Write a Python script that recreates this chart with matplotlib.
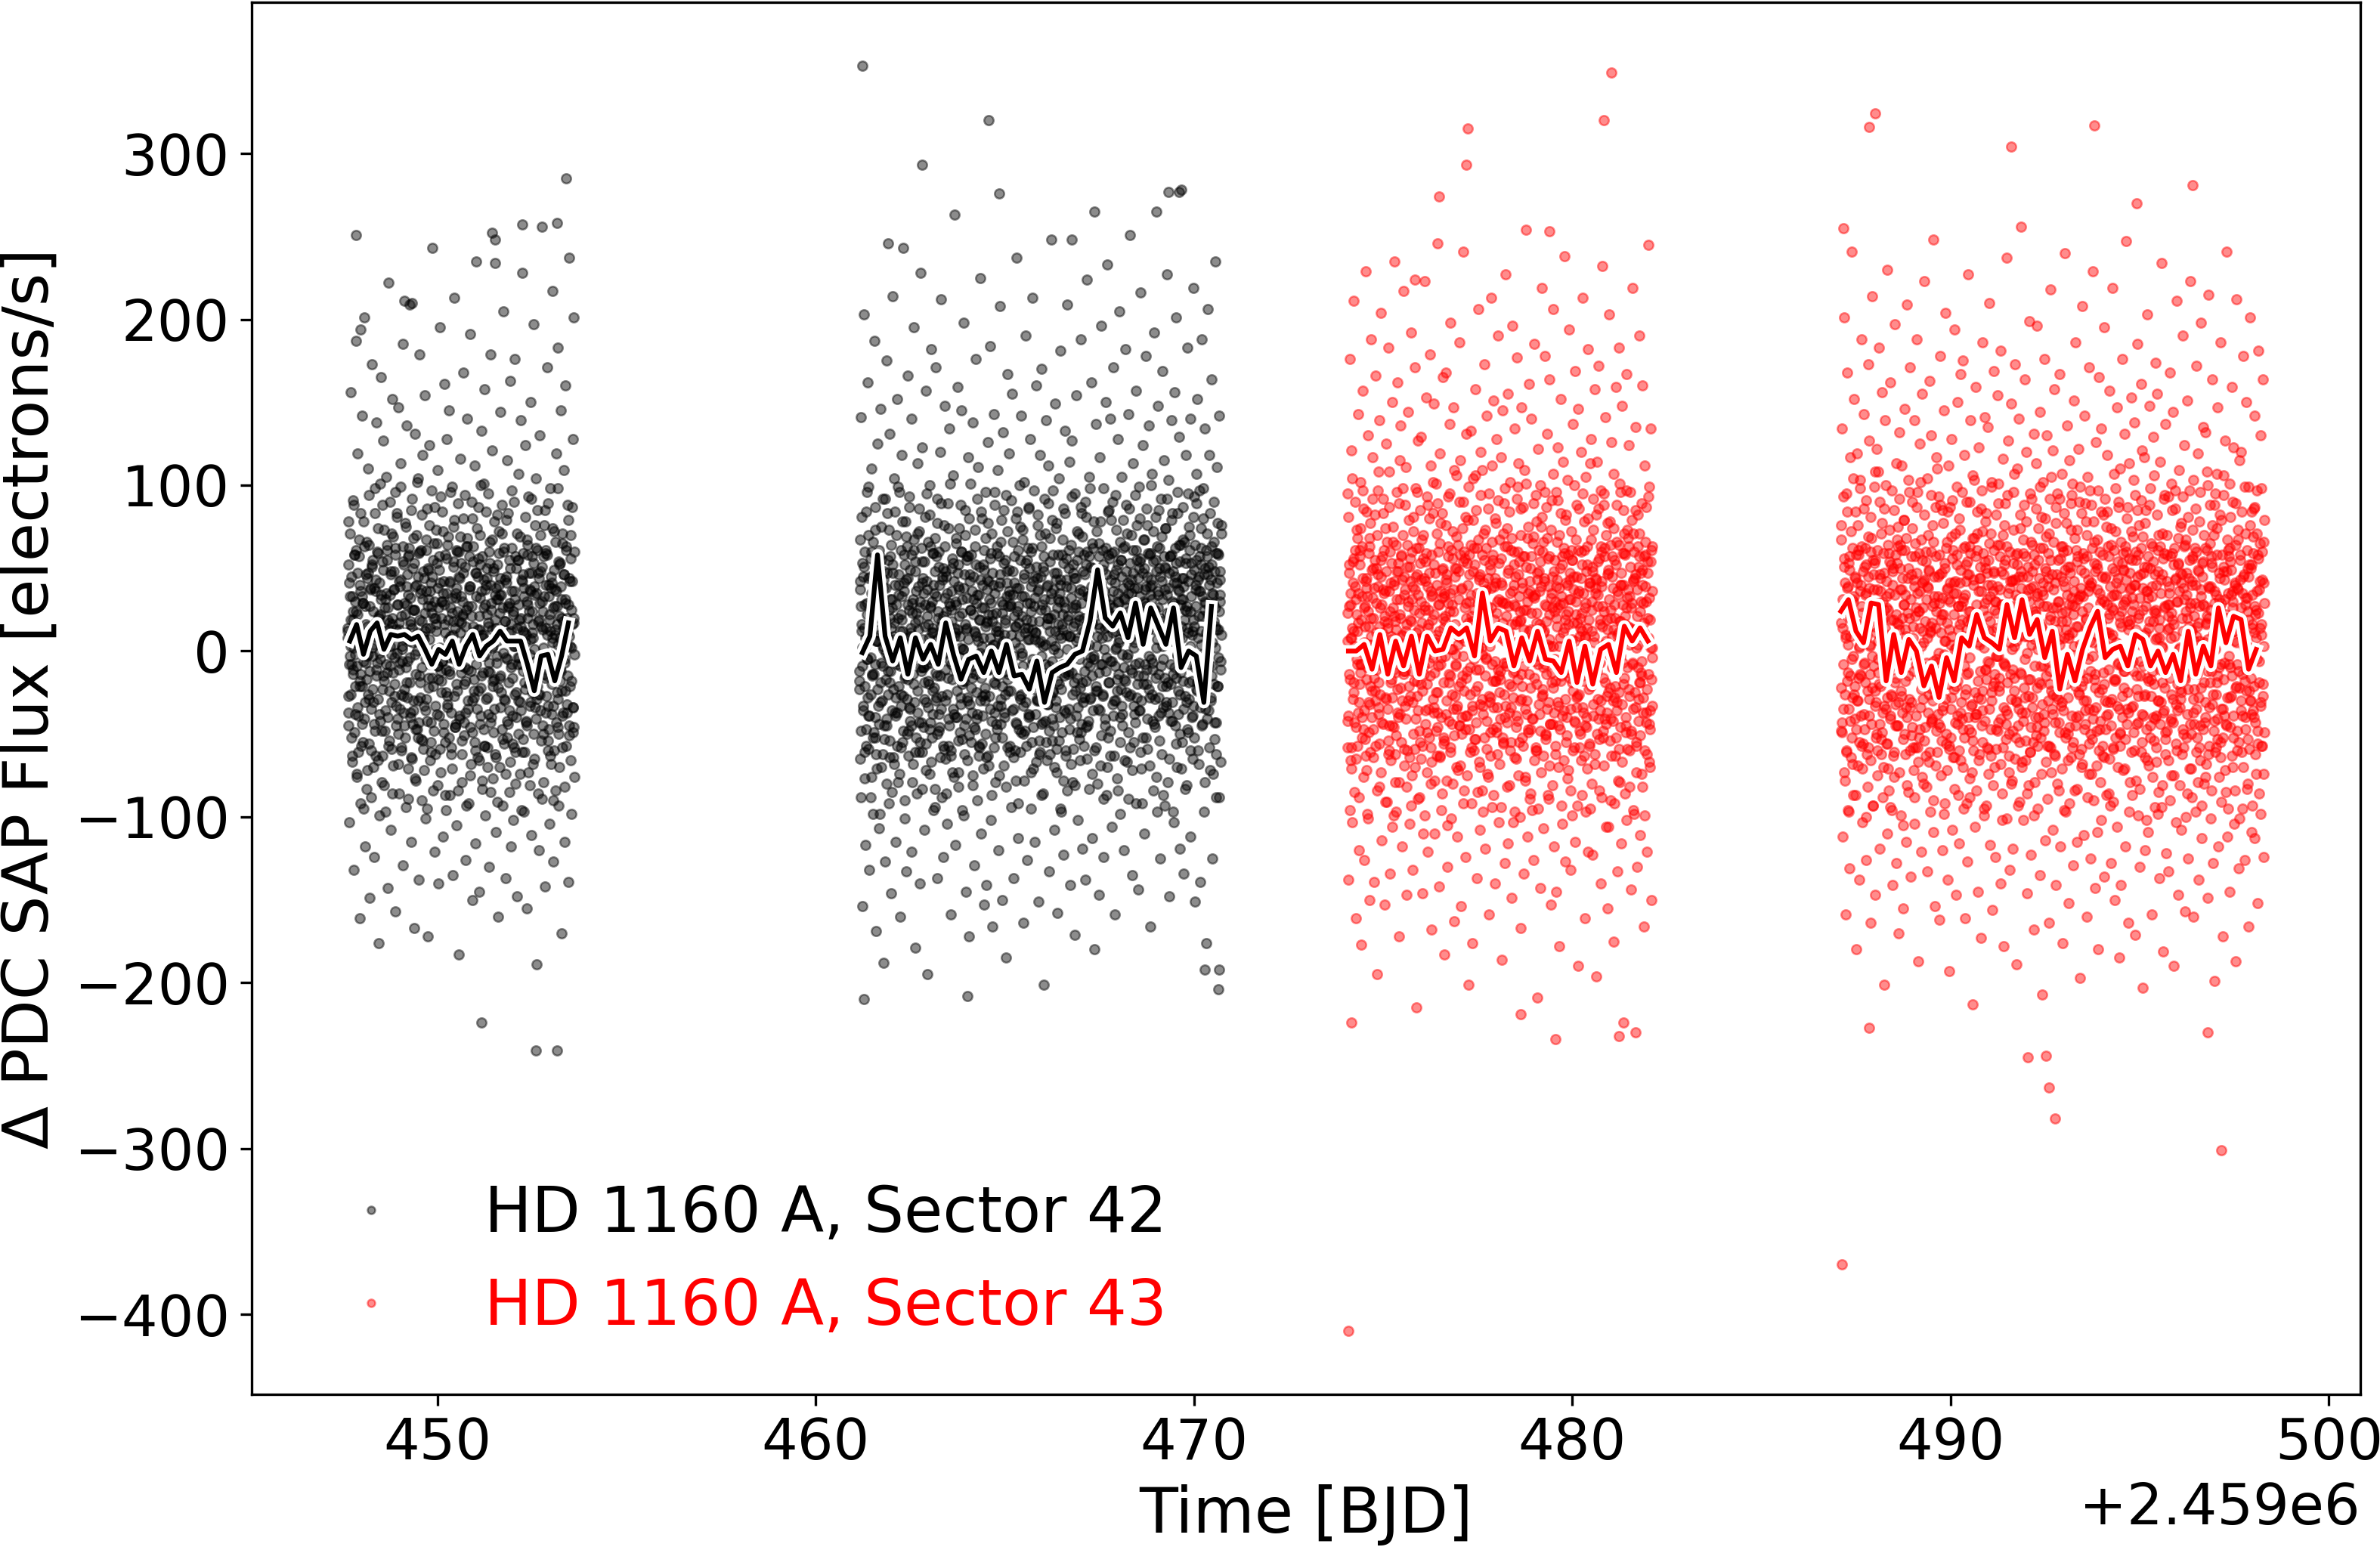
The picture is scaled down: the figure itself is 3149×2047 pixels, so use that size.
import matplotlib
matplotlib.use("Agg")
import matplotlib.pyplot as plt
import matplotlib.patheffects as pe
import numpy as np

# ---------------- data (times in BJD - 2459000) ----------------
BJD0 = 2459000.0

# observed flux residuals, read/estimated from the picture, ordered in time
# (wide part of each cloud)
s42_a_span = (447.62, 453.62)
s42_a_flux = [
 12, -45, 78, -103, 33, 156, -8, -67, 91, 24, -132, 58, -21, 187, -76, 5, 119, -39, 67, -161,
 -14, 83, -57, 142, 29, -95, 8, 201, -118, 46, -3, -72, 110, -26, 64, -149, 37, -88, 173, 2,
 55, -31, -124, 98, 17, -63, 138, -7, 74, -176, 41, -99, 22, 165, -48, 88, -15, 127, -81, 9,
 -36, 105, 61, -143, 19, 222, -54, 34, -108, 71, -2, 152, -69, 48, -27, 96, -157, 13, 83, -41,
 147, -11, -86, 39, 113, -60, 3, 185, -129, 52, -23, 77, -94, 28, 136, -6, -71, 58, 209, -37,
 16, -115, 92, -44, 68, -167, 25, 131, -78, 6, 102, -52, 45, -138, 179, -19, 61, -90, 31, 118,
 -59, 7, 154, -101, 36, -29, 86, -172, 49, 124, -66, 14, -43, 97, 243, -84, 20, 65, -121, 1,
 73, -38, 109, -9, -140, 57, 195, -73, 30, -18, 84, -112, 42, 161, -55, 11, -96, 128, -32, 69,
 -4, 145, -87, 26, -62, 99, -135, 18, 75, 213, -46, 35, -105, 60, -24, 89, -183, 44, 116, -13,
 53, -79, 21, 168, -51, 94, -10, -126, 63, 140, -35, 8, -92, 37, 191, -68, 27, -150, 80, 15,
 -28, 112, -116, 47, 235, -1, -64, 87, -145, 32, 70, -22, 133, -83, 10, -47, 101, 158, -99, 40,
 22, -58, 95, -12, -130, 66, 179, -40, 13, 121, -77, 50, -17, 248, -109, 38, -3, 82, -160, 59,
 -70, 34, 144, -25, 71, -93, 9, 205, -56, 43, -137, 79, -5, 115, -44, 26, -85, 163, 16, -118,
 62, -16, -102, 90, 31, 176, -61, 4, -148, 55, 107, -30, 19, -74, 139, -8, 228, -53, 46, -97,
 11, 124, -42, 67, -155, 28, 93, -20, -81, 150, 36, -111, 57, 8, 197, -65, 39, -34, 104, -189,
 85, -26, 18, -120, 130, 48, -7, 256, -89, 24, -50, 76, -142, 14, 61, -15, 171, -60, 33, -104,
 -2, 98, -68, 41, 217, -33, -127, 72, 10, -84, 119, 27, -46, 183, -93, 52, -11, 145, -170, 20,
 65, -37, 109, -115, 29, 160, -57, 3, 88, -139, 44, 237, -21, 70, -98, 16, 128, -49, 201, -76,
]
# dense core of the same orbit
s42_a_core = [
 14, -37, 52, -8, 71, -26, 3, 45, -63, 19, -11, 88, -49, 30, -2, 61, -74, 22, -34, 9, 57, -18, 40, -92, 6,
 -21, 33, -55, 78, 1, -41, 27, -7, 66, -83, 15, 47, -29, 94, -12, 38, -60, 10, 51, -3, -70, 24, -44, 83, 36,
 43, -15, 8, -66, 59, 20, -38, 101, -5, 31, -79, 54, -23, 12, 73, -48, 2, -97, 35, 64, -13, 26, -57, 17, 90,
 -9, 48, -31, 16, -86, 69, 37, -20, 4, 58, -45, 81, -1, 28, -68, 13, 42, -35, 99, -58, 21, -6, 63, -27, 7,
 29, -52, 75, 11, -19, 46, -89, 34, 62, -4, 18, -40, 85, -65, 25, 5, -30, 53, -77, 39, -14, 70, -47, 0, 104,
 -43, 19, 60, -28, 37, -10, 82, -54, 9, 44, -72, 23, -36, 67, 14, -95, 50, -22, 31, 76, -8, 41, -61, 27, -16,
 55, -3, -48, 87, 20, -33, 12, 65, -81, 38, -17, 49, 2, -59, 93, -25, 30, -6, 72, -44, 16, -87, 58, -11, 35,
 -27, 64, 7, -52, 41, -14, 96, -37, 23, -71, 10, 54, -5, 79, -46, 32, -20, 61, -2, -84, 45, 18, -39, 69, -9,
 33, -62, 22, -1, 80, -43, 51, -18, 15, -93, 68, 27, -30, 4, 57, -75, 39, -12, 90, -49, 11, 63, -24, 6, -55,
 47, -8, 74, -35, 13, 56, -66, 21, -44, 100, -15, 36, -78, 8, 43, -3, -57, 28, 84, -29, 50, -70, 17, -38, 60,
 -13, 40, -85, 25, 67, -21, 3, -49, 78, 34, -62, 14, -7, 52, -91, 31, 72, -16, 44, -34, 9, 88, -53, 26, -1,
 62, -30, 18, -74, 45, 7, -42, 83, -19, 29, 55, -67, 12, -8, 97, -39, 24, -58, 36, 3, -80, 50, -25, 71, -4,
 -50, 28, 6, 69, -36, 15, -96, 42, 59, -12, 33, -61, 81, -23, 10, -45, 64, 20, -73, 47, -2, 37, -31, 92, 11,
 24, -68, 53, -17, 1, 76, -41, 35, -9, 61, -86, 19, 44, -26, 70, -3, -54, 30, 13, -79, 57, -14, 85, -37, 40,
 -6, 58, -33, 89, -47, 22, 12, -63, 38, -20, 74, 5, -90, 49, 27, -11, 66, -43, 16, 98, -29, 54, -70, 8, -18,
 39, -24, 71, -58, 14, 46, -5, -82, 31, 63, -37, 20, -15, 79, -51, 9, 42, -66, 25, 2, 87, -34, 17, -46, 60,
]
# innermost part of the same orbit
s42_a_inner = [
 8, -27, 41, -3, 19, -52, 33, -14, 2, 58, -38, 24, -9, 47, -61, 12, -21, 36, 5, -44, 29, -6, 63, -31, 16,
 -17, 44, -2, -56, 27, 10, -35, 52, -23, 4, 38, -48, 15, -11, 60, -29, 21, -1, -42, 34, 7, -63, 49, -18, 26,
 31, -8, 55, -40, 13, -24, 3, 46, -59, 20, -13, 37, -4, 62, -33, 9, 28, -50, 17, -7, 43, -26, 1, 54, -37,
 -45, 22, -10, 39, -28, 57, 6, -19, 32, -64, 14, 50, -36, 25, -2, -47, 40, 11, -30, 59, -15, 35, -53, 18, 4,
 48, -33, 12, -5, 61, -42, 27, -16, 7, 36, -55, 23, 45, -21, -1, 30, -62, 16, 53, -9, 26, -39, 41, -12, 20,
 -6, 35, -49, 28, 1, -25, 56, -34, 19, -12, 42, 9, -58, 32, -3, 51, -27, 14, -44, 38, 24, -8, 60, -41, 11,
 17, -54, 30, 47, -20, 6, -37, 25, 63, -11, 39, -46, 3, 21, -30, 54, -17, 8, -60, 33, -2, 45, -24, 13, 52,
 -39, 10, 57, -13, 26, -57, 37, -1, 44, -28, 15, -7, 53, -43, 29, 2, -18, 48, -35, 19, -64, 31, 6, -22, 40,
 23, -15, 34, -47, 9, 60, -29, 18, -4, 41, -52, 27, 11, -36, 50, -10, 36, -56, 22, 3, -26, 57, -40, 14, -8,
 55, -4, -31, 20, 43, -61, 12, 38, -19, 5, -43, 30, 58, -14, 24, -33, 7, 47, -25, 16, -50, 34, -6, 62, -29,
 -21, 47, -8, 29, -36, 15, 51, -45, 2, 33, -16, 59, -27, 10, -54, 40, 19, -3, 45, -38, 8, 26, -60, 37, 13,
 36, -25, 4, -50, 21, 53, -12, 31, -39, 18, 46, -7, -24, 61, -32, 11, 28, -45, 3, 56, -18, 42, -34, 20, -2,
]

s42_b_span = (461.15, 470.72)
s42_b_flux = [
 -23, 67, 141, -88, 12, -154, 45, 203, -61, 28, -117, 84, -5, 162, -39, 99, -132, 17, 56, -76,
 110, -14, -98, 38, 187, -52, 73, -169, 6, 125, -33, 61, -107, 20, 146, -70, 31, -9, 92, -188,
 48, -127, 15, 175, -45, 83, -3, -92, 131, -19, 57, -146, 26, 214, -64, 9, 104, -37, -115, 70,
 -8, 152, -79, 34, 96, -160, 22, -26, 118, -55, 243, 41, -101, 5, 78, -133, 63, -17, 166, -48,
 87, -35, 11, -121, 140, 29, -68, 195, -2, 54, -179, 36, -86, 113, 19, -43, 72, -140, 228, -12,
 -61, 123, 44, -10, -108, 81, 157, -31, 3, -195, 66, -20, 100, -74, 27, 182, -52, 14, -96, 59,
 35, -83, 171, -28, 92, -137, 8, 60, -46, 120, -15, 212, -88, 43, -124, 76, -1, 148, -65, 24,
 -104, 16, 89, -57, 134, -6, -159, 50, 25, -73, 106, -38, 263, 11, -117, 68, -24, 159, -82, 39,
 74, -49, 2, 145, -96, 31, -18, 198, -62, 85, -145, 13, 57, -30, 117, -172, 46, -7, 101, -55,
 -16, 138, -75, 22, -129, 63, 176, -41, 9, -90, 111, 34, -58, 225, -1, -110, 80, -27, 52, -153,
 61, -22, 96, -141, 18, 126, -63, 42, -11, 184, -102, 29, 71, -166, 4, 143, -37, 88, -79, 15,
 -47, 109, -4, -120, 57, 208, -33, 79, -150, 23, 132, -69, 10, -26, 94, -185, 48, 167, -14, 36,
 119, -57, 28, -94, 155, -12, 66, -137, 41, 5, -78, 237, -44, 84, -113, 17, 100, -29, -61, 142,
 -3, 73, -164, 33, 102, -48, 190, -20, 55, -126, 14, 87, -39, 128, -95, 60, -8, 213, -71, 27,
 45, -115, 11, 160, -30, 82, -151, 37, -62, 118, 6, -87, 170, -17, 51, -201, 92, -42, 25, 139,
 -66, 20, 112, -9, -133, 68, 31, 248, -54, 97, -24, 1, -108, 149, 43, -73, 77, -158, 16, 104,
 30, -40, 181, -97, 58, 13, -123, 86, -15, 133, -60, 39, 209, -84, 21, -35, 114, -141, 64, -5,
 127, -79, 47, -19, 95, -171, 26, 154, -49, 8, -102, 71, 19, -66, 188, -28, 83, -119, 36, 58,
 -12, 90, -138, 52, 224, -45, 15, 105, -83, 33, -4, 162, -113, 65, -36, 78, -180, 42, 137, -58,
 72, -24, 16, -147, 117, 40, -69, 196, -8, 61, 98, -124, 27, -41, 150, -87, 9, 233, -52, 85,
 23, 140, -63, 79, -106, 11, 171, -30, 46, -159, 94, 2, -77, 128, 35, -14, 205, -98, 55, -33,
 105, -45, 62, -120, 31, 182, -18, 88, -67, 14, 143, -89, 40, 251, -26, 70, -135, 19, 113, -55,
 38, -8, 157, -92, 76, 21, -144, 99, -36, 54, 216, -71, 9, 124, -52, 67, -110, 29, 178, -20,
 86, -59, 13, 136, -28, 59, -166, 43, 107, -11, -84, 192, 25, -46, 81, 265, -97, 34, 148, -39,
 50, -125, 92, 18, -62, 169, -5, 115, -93, 37, 74, -31, 227, -79, 12, 103, -148, 57, -20, 139,
 -42, 83, 27, -103, 156, 45, -16, 201, -70, 96, -38, 129, 8, -119, 64, 278, -55, 31, 87, -134,
 66, -27, 118, -81, 24, 183, -49, 75, -8, 140, -112, 53, 10, -65, 219, -33, 93, -151, 40, 107,
 -19, 152, -60, 36, 97, -139, 62, 12, 188, -44, 80, -97, 25, 134, -13, -176, 71, 206, -36, 51,
 118, -72, 43, -9, 164, -125, 29, 90, -53, 235, 15, -88, 111, -21, 58, -192, 142, 34, -67, 76,
]
s42_b_core = [
 -18, 42, -65, 27, 81, -9, 53, -36, 14, -77, 60, 3, -47, 96, 22, -28, 70, -59, 11, 45, -4, -88, 35, 18, -52,
 66, -14, 29, -40, 87, 6, -71, 50, -23, 34, 13, -98, 57, -31, 75, -7, 24, -62, 43, 1, -45, 92, -17, 38, -80,
 9, 55, -26, 73, -54, 20, -12, 64, -85, 31, 47, -3, -68, 17, 84, -39, 28, 5, -57, 99, -21, 40, -74, 12, 61,
 -33, 19, 78, -48, 2, 36, -90, 52, -15, 69, -29, 8, 44, -63, 25, 93, -42, 14, -6, 58, -79, 31, 67, -20, 4,
 48, -61, 23, -2, 71, -37, 13, 86, -55, 30, -10, 62, -83, 41, 7, -46, 54, -19, 28, -72, 95, -8, 37, -34, 16,
 -5, 82, -43, 26, -67, 11, 59, -24, 40, 3, -94, 68, -13, 33, -50, 77, 20, -38, 51, -1, -64, 15, 89, -27, 45,
 21, -57, 6, 63, -30, 48, -86, 35, 10, -16, 74, -45, 27, 101, -60, 18, -8, 56, -35, 42, -76, 9, 30, -12, 65,
 -40, 13, 52, -73, 37, -4, 88, -28, 60, -53, 23, 1, -99, 46, -18, 70, -41, 32, 14, -66, 57, -7, 80, -32, 25,
 58, -22, 36, -9, -81, 45, 12, -47, 73, -14, 29, 92, -38, 6, -63, 51, 19, -30, 84, -56, 3, 40, -71, 26, -3,
 -26, 68, -50, 17, 43, -11, 77, -69, 31, 8, -35, 59, -87, 22, 47, -2, -58, 35, 96, -20, 12, -44, 63, -15, 39,
 10, -75, 41, -29, 66, 4, -52, 28, -6, 85, -40, 19, 55, -82, 33, -17, 72, -24, 2, 49, -61, 27, -9, 91, -36,
 34, -3, -64, 57, 15, -43, 80, -12, 24, -92, 61, 38, -27, 9, 75, -49, 21, -1, 67, -33, 46, -78, 14, 53, -19,
 -57, 29, 7, 86, -38, 50, -16, 39, -73, 18, 62, -5, -46, 97, -23, 32, 11, -67, 44, -11, 76, -30, 5, -54, 70,
 25, -44, 63, -21, 3, -86, 48, 31, -8, 71, -55, 16, 40, -32, 89, -14, 54, -62, 20, 6, -41, 79, -25, 37, -70,
 47, 12, -34, 74, -59, 26, -1, 58, -20, 35, -95, 43, 8, -49, 67, 22, -78, 30, -13, 83, -37, 10, 56, -7, 19,
 -12, 61, -47, 9, 38, -68, 93, -26, 15, 52, -3, -81, 44, 28, -39, 72, -16, 1, 60, -53, 35, -22, 87, -44, 13,
 69, -31, 20, -57, 46, 4, -18, 81, -65, 33, 11, -42, 57, -9, 98, -28, 39, -74, 17, 50, -5, 28, -60, 42, -24,
 3, 44, -80, 30, -13, 65, -36, 22, 78, -51, 8, -27, 49, -89, 36, 14, -45, 62, -4, 25, -70, 84, -19, 31, 56,
 -48, 17, 59, -6, 90, -39, 26, -63, 41, 1, -30, 73, -17, 52, -84, 29, 7, -55, 66, -23, 45, 12, -38, 79, -10,
 32, -66, 13, 48, -25, 71, -2, -49, 35, 86, -58, 20, -11, 43, -72, 61, 27, -33, 5, 94, -43, 16, 55, -28, 38,
 -15, 50, -36, 80, -61, 24, 9, -92, 47, 30, -20, 67, -8, 39, -52, 13, 76, -41, 22, -3, 58, -69, 34, 100, -26,
 40, -7, 72, -44, 18, -29, 55, 2, -76, 63, 26, -14, 85, -54, 11, 45, -37, 69, -21, 31, -87, 8, 51, -16, 74,
 -33, 23, 92, -19, 38, -65, 14, 57, -42, 6, 79, -31, 48, -97, 29, -10, 62, 17, -56, 41, -2, 83, -24, 36, -50,
 54, -13, 31, -71, 8, 67, -35, 44, 19, -83, 53, -5, 27, -47, 95, 11, -29, 70, -60, 24, 46, -18, 12, -39, 81,
 15, -52, 64, 37, -23, 89, -9, 43, -68, 21, 57, -34, 4, 74, -45, 33, -12, 98, -27, 50, -79, 29, 61, -1, -41,
 46, 9, -58, 26, 83, -30, 52, -15, 35, -74, 66, 18, -43, 2, 59, -62, 41, 77, -21, 13, -88, 48, 30, -6, 71,
]
s42_b_inner = [
 -12, 37, -48, 16, 2, -33, 51, -21, 8, -57, 29, -5, 44, -39, 13, -26, 60, -15, 22, -49, 35, -8, -62, 41, 6,
 27, -44, 10, -19, 55, -30, 3, 38, -53, 19, -1, -41, 47, -12, 25, -64, 31, 14, -36, 52, -23, 7, 40, -28, -6,
 -37, 20, 46, -9, -58, 33, 12, -27, 58, -16, 4, 43, -50, 28, -3, -34, 49, 9, -45, 23, -14, 61, -31, 17, -52,
 5, -24, 39, -61, 26, 1, -43, 54, -10, 35, -29, 15, -56, 42, 21, -18, 8, -47, 63, -7, 30, -38, 11, -22, 48,
 -30, 57, -15, 24, -48, 40, 6, -35, 18, -2, 50, -59, 32, -11, 45, -26, 13, -41, 29, 3, -63, 36, -17, 53, -4,
 14, -40, 28, -6, 47, -54, 21, 9, -32, 60, -20, 1, 38, -45, 16, -9, 55, -28, 7, -51, 42, 25, -13, -37, 31,
 -46, 11, 52, -25, 34, -3, -57, 19, 43, -16, 26, -39, 8, 49, -30, 15, -64, 37, -8, 22, -27, 56, 2, -42, 18,
 40, -19, 4, -52, 23, 59, -33, 12, -5, 46, -44, 30, -21, 6, 53, -37, 17, -12, 41, -58, 27, -1, 34, -24, 10,
 -8, 48, -35, 21, -60, 15, 38, -14, 27, -47, 2, 55, -26, 33, -9, -50, 44, 11, -31, 19, -18, 62, -40, 7, 29,
 24, -55, 13, 42, -20, 7, -38, 51, -29, 36, -11, 18, -61, 45, -3, 28, -43, 57, -15, 4, 39, -32, 20, -48, 12,
 -27, 35, -6, 58, -45, 22, 3, -30, 47, -18, 31, -54, 10, 40, -23, 16, -8, 53, -36, 26, -63, 43, 1, -14, 50,
 9, -41, 32, -13, 26, -59, 44, 17, -24, 6, 55, -34, 21, -5, 37, -49, 29, -19, 48, 12, -28, 3, -46, 60, -7,
 33, 4, -29, 51, 18, -15, 62, -3, 26, 44, -21, 37, 9, -35, 57, 14, -8, 40, 23, -26, 52, 1, 31, -12, 46,
 15, 58, -19, 28, -6, 43, 21, -32, 36, 60, -9, 12, 49, -24, 30, 5, -40, 55, 19, -2, 38, -17, 63, 10, 26,
 -4, 41, 24, -27, 53, 8, 35, -13, 47, 2, -38, 29, 61, 16, -20, 44, -7, 33, 56, -30, 22, 11, -15, 50, 37,
 27, -11, 45, 59, -23, 18, 39, -5, 31, -42, 54, 13, 25, -16, 48, 7, 36, -28, 62, 20, -9, 42, 3, -34, 57,
 12, 50, -21, 34, 6, -37, 47, 23, -8, 58, 30, -14, 41, 17, -45, 53, 9, -3, 37, 64, -26, 28, 15, 44, -18,
 39, -6, 25, 56, -31, 14, 42, -19, 61, 3, 33, -40, 19, 49, -10, 27, 55, -24, 8, 45, -13, 36, 52, -2, 21,
 -15, 46, 30, -35, 11, 57, 22, -9, 40, 16, -28, 63, 5, 34, -20, 48, 26, -43, 13, 59, -4, 24, 43, -11, 10,
]

s43_a_span = (474.05, 482.12)
s43_a_flux = [
 -42, 95, -138, 27, 176, -66, 8, 121, -103, 54, -19, 211, -85, 39, -161, 73, 12, -57, 143, -120,
 61, -8, 102, -177, 33, 157, -47, 86, -126, 15, 229, -72, 44, -98, 130, -31, 68, -150, 4, 188,
 -24, 117, -64, 20, -139, 82, 166, -11, 50, -195, 97, -38, 139, -82, 26, 204, -114, 57, -6, 92,
 35, -153, 74, -29, 125, -91, 3, 183, -60, 108, -134, 41, -17, 150, -106, 66, -46, 235, -79, 18,
 -97, 48, 162, -40, 89, -172, 22, 136, -55, 10, -118, 98, 217, -69, 37, -12, 111, -147, 64, -30,
 144, -21, -104, 56, 192, -75, 31, -132, 81, -3, 171, -59, 45, -215, 96, -36, 127, 7, -88, 53,
 -65, 129, 17, -146, 70, -14, 223, -99, 42, 153, -49, 88, -121, 25, -7, 179, -80, 112, -168, 34,
 83, -37, 149, -110, 5, 101, -63, 246, -25, 60, -142, 119, -8, 77, -96, 32, 165, -52, 14, -183,
 21, 168, -78, 46, -130, 93, -19, 137, -58, 198, -101, 28, 72, -35, 147, -163, 50, -2, 106, -70,
 -112, 64, 9, 186, -45, 115, -154, 38, -15, 90, 241, -84, 56, -124, 20, 131, -39, 79, -201, 46,
 58, -26, 133, -92, 18, -176, 104, 62, -53, 158, -11, 85, -137, 29, 206, -67, 43, -108, 120, 2,
 -84, 109, -33, 71, 173, -119, 36, -4, 142, -74, 23, -159, 95, 52, -28, 213, -94, 66, -47, 151,
 39, -140, 80, -18, 128, -62, 190, 11, -103, 67, -41, 117, -186, 30, 145, -56, 89, 6, -128, 227,
 -9, 74, -116, 155, 27, -81, 102, -34, 61, -149, 196, -13, 40, -97, 134, 16, -65, 177, -42, 99,
 113, -55, 24, -167, 86, 147, -21, 57, -134, 8, 109, -76, 254, -30, 68, -112, 35, 161, -89, 13,
 -47, 140, -96, 33, 69, -126, 185, -6, 94, -60, 17, -209, 122, 48, -38, 100, -143, 75, 219, -23,
 66, -107, 12, 178, -51, 87, -14, 131, -87, 39, 164, -69, 3, -153, 91, 26, -44, 206, -118, 55,
 -18, 96, -145, 43, 123, -33, 70, -178, 28, 152, -93, 57, -9, 114, -66, 238, 19, -127, 82, -40,
 103, -72, 31, 194, -16, -132, 61, 7, -99, 137, 45, -58, 169, -115, 22, 88, -27, 146, -190, 36,
 -58, 14, 120, -87, 52, 213, -37, 78, -161, 9, 105, -46, 63, -121, 182, -5, 41, -95, 128, 67,
 25, -123, 92, -12, 158, -68, 35, -196, 114, 54, -29, 172, -84, 16, 97, -140, 60, 232, -52, 4,
 88, -41, 141, -106, 19, 77, -155, 47, 203, -22, 64, -90, 126, -10, 38, -175, 107, 28, -63, 159,
 -31, 66, -133, 11, 183, -79, 96, 40, -116, 148, -7, 85, -224, 59, 21, -49, 167, -102, 73, 15,
 124, -60, 33, 96, -144, 6, 219, -35, 71, -98, 44, 135, -73, 2, -130, 82, 51, -19, 190, -111,
 47, -15, 160, -82, 29, -166, 112, 58, -43, 87, -121, 20, 245, -67, 99, -36, 134, -150, 63, -4,
]
s43_a_core = [
 23, -58, 81, -14, 47, -96, 35, 8, -71, 104, -29, 56, 12, -43, 90, -65, 31, -5, 68, -37, 17, -88, 52, -20, 74,
 -8, 63, -40, 97, -76, 26, 5, -53, 42, 84, -17, 33, -101, 59, 15, -32, 77, -61, 20, 49, -11, 92, -47, 38, -24,
 55, -30, 11, -84, 70, 39, -19, 108, -56, 2, 45, -73, 28, -9, 83, -44, 61, 18, -91, 36, -3, 66, -35, 14, -62,
 -45, 87, 24, -66, 9, 53, -28, 75, -99, 40, 21, -13, 64, -51, 96, 6, -37, 48, -79, 31, 115, -22, 57, -7, 43,
 70, -12, -59, 34, 88, -41, 16, -82, 51, 27, -6, 79, -64, 19, 42, -93, 60, 3, -31, 72, -18, 37, -70, 98, 11,
 -27, 46, -89, 62, 13, -48, 85, -20, 30, 67, -57, 7, -110, 44, 25, -36, 54, -2, 93, -73, 39, 16, -52, 80, -15,
 36, -67, 58, -4, 102, -34, 22, -78, 47, 10, -25, 71, -46, 89, -9, 28, -63, 65, 4, -40, 83, -86, 50, -19, 33,
 -54, 18, 76, -38, 41, -105, 63, 29, -14, 95, -61, 35, 1, -44, 56, -80, 24, 109, -27, 45, -8, 69, -35, 12, -72,
 48, -21, 90, -69, 8, 37, -50, 74, -3, -92, 60, 26, -39, 81, -16, 53, -75, 14, 99, -47, 30, -10, 64, -58, 21,
 -33, 79, 13, -60, 52, -24, 106, -43, 35, 2, -85, 67, -11, 46, -70, 94, 20, -29, 58, -97, 41, 7, -52, 73, -5,
 62, -42, 27, -76, 86, 15, -31, 49, -63, 38, 112, -18, 55, -87, 9, 44, -6, 77, -49, 23, -34, 91, -15, 31, -68,
 -12, 56, -94, 40, 17, -55, 71, -26, 98, -40, 29, -7, 63, -82, 47, 11, -37, 84, -60, 3, 68, -21, 36, -103, 52,
 28, -64, 45, 5, -46, 92, -17, 60, -75, 33, 18, -100, 70, -29, 41, -52, 87, 13, -9, 57, -78, 25, 101, -38, 6,
 -49, 75, -14, 36, -86, 50, 23, -41, 65, -3, 89, -66, 32, 10, -58, 78, -20, 43, -95, 61, -32, 16, 54, -73, 39,
 81, -26, 11, -63, 44, -8, 96, -50, 27, 68, -35, 4, -89, 57, 22, -44, 73, -13, 35, -81, 107, -22, 48, -5, 30,
 -57, 20, 66, -31, 91, -70, 38, 8, -47, 83, -15, 52, -104, 29, 62, -36, 14, 79, -55, 41, -2, -77, 58, 24, -11,
 43, -84, 31, 72, -19, 55, -60, 17, 100, -42, 6, 67, -28, 45, -93, 35, -10, 86, -48, 20, 60, -66, 12, 95, -34,
 -18, 61, -45, 26, -97, 48, 14, -71, 80, -23, 39, -56, 113, -6, 30, -80, 51, 73, -39, 9, -62, 44, -14, 82, -50,
 34, -8, 86, -53, 19, -36, 63, -88, 42, 27, -16, 95, -69, 57, 2, -44, 70, -27, 13, -106, 49, -2, 78, -41, 25,
 -63, 45, 9, -30, 74, -92, 55, 20, -52, 88, -12, 36, -78, 64, -25, 101, -46, 18, 40, -67, 28, 59, -20, 71, -86,
 16, -40, 97, -59, 32, 68, -23, 4, -82, 51, 26, -48, 79, -7, 43, -96, 60, 12, -34, 85, -57, 37, -10, 63, -29,
 71, -51, 24, -13, 89, -74, 40, -28, 57, 11, -99, 66, -37, 30, -62, 47, 8, 93, -44, 19, -70, 54, -17, 36, 2,
]
s43_a_inner = [
 6, -39, 52, -17, 28, -58, 14, 41, -25, 3, 61, -46, 22, -8, 35, -31, 57, -13, 19, -52, 44, 1, -36, 27, -63,
 38, -10, 24, -49, 63, -21, 9, -40, 32, 50, -16, 4, -57, 29, -2, 46, -34, 15, -26, 55, -43, 11, 37, -7, 21,
 -28, 48, -5, 17, -54, 36, 60, -19, 7, -45, 26, -11, 42, -62, 13, 31, -23, 53, -3, -38, 20, 58, -30, 9, -14,
 45, -33, 12, -60, 30, -1, 51, -27, 18, -12, 39, -50, 25, 5, -41, 62, -18, 34, -6, 23, -55, 43, 8, -24, 56,
 -9, 27, -44, 59, -20, 14, -35, 47, 2, -58, 33, 19, -29, 52, -13, 7, -48, 40, -37, 28, 12, -64, 36, -4, 49,
 20, -56, 35, -3, 43, -30, 10, 57, -42, 24, -15, 61, -26, 1, 37, -51, 16, -9, 50, -33, 4, 31, -45, 58, -19,
 -40, 13, 54, -24, 6, -47, 29, -12, 40, 17, -61, 34, 8, -36, 48, -5, 25, -53, 15, 62, -21, 2, 45, -32, 11,
 31, -2, -38, 22, 55, -15, 37, -59, 13, 44, -27, 3, -49, 26, -8, 58, -34, 19, -18, 41, -46, 30, -11, 53, -25,
 -17, 41, 8, -52, 29, -7, 63, -33, 21, -43, 10, 49, -20, 35, -55, 16, 4, -28, 60, -12, 27, -39, 18, -3, 46,
 54, -30, 19, -14, 38, -57, 25, 6, -35, 51, -1, 30, -47, 12, 42, -22, 57, -41, 9, -16, 34, -60, 23, 47, -8,
 -3, 36, -48, 14, -27, 60, -10, 42, 28, -53, 18, -5, 56, -31, 7, -44, 32, -19, 45, 3, -37, 24, -62, 39, 15,
 26, -45, 3, 50, -18, 33, -39, 11, -6, 59, -29, 22, -51, 40, 16, -13, 47, -35, 1, 55, -24, 37, -9, -43, 30,
 -34, 17, 61, -26, 9, -50, 44, 23, -15, 35, -63, 8, 29, -40, 52, -2, 19, -57, 41, -21, 12, 48, -32, 5, 38,
 43, -12, 27, -41, 56, -7, -30, 39, 15, -48, 24, 62, -19, 6, -37, 46, -25, 31, -54, 20, -4, 57, -42, 13, -28,
 -21, 52, -36, 10, 34, -59, 18, -3, 47, -32, 5, 40, -16, 58, -45, 26, -10, 37, 63, -27, 14, -50, 29, -8, 42,
 13, -25, 46, -55, 21, 4, -42, 57, -19, 30, -6, 49, -37, 17, -60, 39, 8, -23, 54, -14, 32, -47, 2, 61, -33,
]

s43_b_span = (487.10, 498.30)
s43_b_flux = [
 76, -48, 134, -112, 25, 201, -73, 41, -159, 95, -18, 168, -96, 53, -131, 9, 117, -64, 241, -28,
 -87, 30, 152, -41, 84, -180, 16, 119, -69, 61, -138, 103, 36, -15, 188, -103, 48, -56, 143, -7,
 62, -126, 91, 13, -82, 173, -39, 127, 4, -164, 68, -22, 214, -93, 37, 99, -147, 55, -31, 122,
 -60, 108, -13, 183, -119, 44, 71, -53, 156, -88, 20, -201, 86, 139, -35, 26, -110, 230, -71, 59,
 35, -94, 162, -26, 97, -141, 50, 8, -76, 197, -45, 113, -128, 17, 75, -170, 132, -10, 64, -99,
 112, -37, 20, -155, 79, 146, -62, 34, -115, 209, 1, -85, 103, -29, 171, -136, 46, -51, 90, 3,
 -72, 139, -104, 57, -8, 188, -58, 96, -187, 24, 125, -34, 67, -121, 155, 12, -80, 43, 223, -46,
 54, -17, 104, -133, 38, -67, 163, 15, -97, 130, -42, 76, 248, -109, 29, -154, 87, -5, 117, -61,
 -27, 93, -162, 46, 178, -75, 22, -120, 85, -33, 145, -92, 6, 204, -56, 66, -138, 112, 31, -193,
 87, -52, 128, 9, -108, 61, -23, 194, -83, 42, -147, 99, 150, -39, 13, -116, 73, -66, 167, 27,
 -41, 175, -95, 32, 118, -161, 52, -14, 90, -127, 227, -47, 63, -88, 139, 18, -73, 106, -213, 40,
 68, -106, 21, 159, -38, 84, -145, 5, 123, -62, 44, -173, 97, 186, -24, 59, -99, 141, -11, 78,
 -93, 47, 135, -59, 12, 210, -117, 71, -30, 102, -156, 36, 169, -70, 25, -124, 82, -3, 154, -48,
 101, -21, 64, -140, 181, 28, -86, 116, -7, -178, 52, 89, -44, 237, -101, 15, 127, -63, 38, -132,
 -14, 149, -78, 43, -119, 96, 3, 173, -52, 58, -189, 110, 31, -35, 140, -91, 74, 256, -67, 19,
 45, -102, 88, -28, 164, -66, 120, -146, 37, 9, -81, 199, -17, 66, -123, 92, 48, -55, 131, -168,
 -79, 24, 113, -46, 196, -95, 55, 17, -135, 144, -9, 81, -207, 34, 102, -38, 176, -114, 69, 6,
 130, -57, 39, -164, 92, -20, 218, -73, 46, 121, -108, 11, 158, -43, 77, -141, 26, 95, -29, -84,
 7, 167, -118, 63, -31, 107, -176, 42, 83, -49, 240, -97, 18, 136, -66, 51, -152, 115, -12, 89,
 -64, 94, 28, -129, 151, 3, -84, 186, -40, 73, -115, 57, 122, -26, -197, 99, 34, -70, 208, -18,
 59, -111, 142, -36, 19, 78, -160, 105, -5, 171, -74, 40, -125, 88, 14, -53, 229, -90, 66, -143,
 -22, 126, -69, 50, -180, 97, 165, -47, 29, -102, 134, 8, -63, 82, -136, 195, -30, 45, -87, 118,
 84, -38, 11, 157, -93, 64, -128, 33, 219, -59, 107, -17, -150, 72, 41, -106, 147, -8, 90, -185,
 -50, 110, -141, 24, 176, -72, 49, -22, 131, -118, 60, 247, -35, 87, -164, 16, 113, -79, 38, 153,
 32, -87, 69, -12, 138, -171, 94, 55, -44, 185, -99, 20, 76, -130, 4, 161, -61, 121, -203, 47,
 117, -27, -120, 85, 36, -66, 203, -109, 14, 148, -52, 98, -17, -159, 63, 129, -40, 24, -94, 174,
 -67, 40, 155, -98, 70, 8, -137, 114, -31, 234, -81, 46, -181, 92, 26, -49, 137, -122, 58, 13,
 93, -133, 28, 168, -42, 101, -75, 19, 144, -190, 62, -11, 86, -103, 211, -36, 53, -147, 109, 2,
 -29, 77, -108, 46, 190, -58, 124, -16, -157, 67, 34, -86, 151, -125, 15, 97, -44, 223, -71, 40,
 56, -160, 103, -23, 62, -97, 172, 9, -52, 119, -138, 78, 27, -66, 198, -113, 45, -6, 135, -80,
 -43, 132, -76, 17, 108, -149, 39, 215, -34, 88, -101, 57, -12, 164, -128, 70, -199, 29, 95, -58,
 74, -15, 147, -118, 31, 82, -64, 186, -91, 13, -172, 106, 48, -39, 127, -85, 241, 20, -112, 61,
 -8, 101, -145, 54, -27, 159, -70, 36, 123, -104, 6, -187, 89, 212, -48, 67, -131, 115, -22, 43,
 120, -61, 35, -95, 178, 3, -126, 71, -40, 150, -83, 24, 99, -166, 52, 201, -30, 84, -109, 16,
 -36, 86, -113, 142, 22, -74, 97, -152, 58, 181, -19, 65, -98, 130, 10, -57, 164, -124, 41, 79,
]
s43_b_core = [
 -22, 67, -49, 14, 93, -35, 51, -78, 26, 8, -61, 84, -13, 39, -97, 57, 20, -42, 72, -5, 31, -68, 104, -26, 45,
 12, -87, 58, -30, 41, 76, -16, 3, -55, 98, -39, 27, 63, -71, 17, -8, 86, -47, 34, -100, 52, 9, -24, 69, -58,
 38, -14, 81, -66, 22, -3, 55, -93, 46, 15, -33, 108, -52, 29, -75, 61, 6, -20, 90, -44, 36, -62, 18, 77, -37,
 -70, 25, 47, -11, 100, -56, 33, -28, 64, -84, 10, 73, -41, 52, -6, -96, 40, 19, -63, 85, -19, 58, -32, 4, 67,
 53, -45, 16, 92, -73, 37, -9, 61, -27, 44, -105, 28, 79, -50, 13, -34, 68, -81, 23, 50, -15, 96, -60, 31, -2,
 -31, 74, -58, 8, 43, -88, 65, 21, -39, 87, -4, 35, -67, 59, 14, -47, 102, -23, 41, -76, 26, 5, -54, 82, -18,
 60, -7, -82, 39, 70, -26, 48, -61, 11, 94, -43, 17, -30, 66, -90, 33, -12, 57, -69, 24, 110, -38, 45, -1, 29,
 -46, 88, 19, -54, 32, -15, 77, -98, 50, 6, -29, 62, -72, 37, 84, -20, 13, -57, 41, -35, 69, -8, 91, -64, 22,
 35, -64, 71, -21, 2, 58, -44, 27, -87, 80, 16, -37, 49, -3, 96, -70, 30, 9, -52, 63, -26, 42, -92, 18, 54,
 -13, 46, -77, 90, 24, -49, 15, -32, 68, -60, 103, 11, -40, 57, -84, 28, 71, -18, 36, -66, 4, 51, -29, 86, -45,
 72, -36, 8, -95, 54, 29, -11, 83, -58, 21, 40, -74, 65, -7, 33, -47, 99, -25, 12, -81, 47, 61, -19, 30, -3,
 -59, 23, 64, -43, 89, -16, 37, -68, 5, 48, -102, 70, 18, -34, 76, -9, 55, -53, 26, 94, -38, 14, -73, 60, 10,
 27, -80, 42, 1, -48, 73, -24, 107, -65, 34, 16, -31, 59, -93, 45, 9, -55, 82, -14, 38, -70, 24, 67, -42, 19,
 -5, 57, -37, 78, -86, 20, 51, -17, 30, -61, 95, -46, 12, 64, -28, 39, -99, 52, 7, -40, 86, -22, 33, -57, 74,
 44, -19, 99, -52, 15, -74, 36, 62, -9, 27, -43, 80, -67, 48, 3, -89, 59, -30, 71, -12, 21, -58, 105, -35, 26,
 -38, 66, -4, -63, 41, 87, -27, 13, -80, 55, 30, -49, 92, -16, 45, -71, 18, 63, -36, 8, -96, 49, 24, -20, 77,
 61, -50, 28, 10, -92, 47, -14, 73, -39, 101, -58, 22, 36, -8, 68, -45, 15, -83, 54, 31, -25, 90, -62, 4, 38,
 -21, 83, -68, 33, 56, -3, -47, 89, -30, 14, 70, -88, 43, 26, -56, 97, -12, 39, -74, 62, 5, -41, 78, -17, 48,
 16, -34, 52, -109, 67, 21, -60, 35, 2, -79, 84, 45, -23, 58, -13, 30, -64, 92, -47, 11, 75, -31, 20, -86, 57,
 -65, 39, 8, 74, -29, 50, -91, 25, 61, -18, 98, -52, 34, 3, -70, 44, 87, -35, 17, -57, 66, -9, 53, -40, 28,
 49, -12, -71, 63, 31, -44, 80, -25, 13, -97, 56, 37, -7, 72, -61, 24, -33, 103, -49, 40, 9, -78, 60, -15, 85,
 -27, 58, 22, -83, 46, -6, 91, -55, 38, 69, -39, 10, -64, 77, 27, -102, 51, -16, 32, -69, 88, 18, -45, 65, -3,
 33, -76, 54, -20, 106, -41, 25, 7, -58, 82, -30, 48, -85, 19, 63, -11, 43, -94, 71, 2, -37, 59, -22, 94, -53,
 -9, 70, -48, 28, -66, 39, 14, -90, 57, 23, -26, 85, -43, 52, -75, 9, 97, -32, 44, -60, 30, 68, -14, 36, -81,
 75, -23, 41, -62, 12, 93, -50, 31, -17, 64, -100, 47, 20, -38, 81, -6, 55, -71, 26, 13, -88, 42, 73, -29, 6,
 -44, 29, 86, -35, 60, -14, -79, 48, 17, -58, 96, -22, 37, -93, 53, 28, -47, 70, 5, -31, 62, -68, 21, 100, -12,
 20, -57, 65, -4, 39, -84, 51, 76, -26, 10, -42, 88, -61, 34, -19, 107, -53, 15, 47, -76, 26, -8, 79, -35, 58,
 -52, 94, -17, 43, -72, 22, 6, -45, 67, -95, 35, 57, -28, 81, -10, 49, -63, 30, 90, -39, 12, -84, 40, 64, -21,
 38, -8, 73, -55, 16, -101, 58, 26, -36, 84, -14, 45, -70, 3, 99, -47, 32, -24, 61, -80, 50, 19, -59, 76, -30,
 -16, 52, -93, 34, 69, -40, 11, 87, -62, 25, -5, 71, -48, 56, -86, 37, 14, -33, 98, -57, 43, -20, 66, -74, 29,
]
s43_b_inner = [
 17, -43, 31, -8, 56, -26, 10, -60, 38, 4, -35, 49, -15, 25, -52, 62, -3, 33, -21, 44, -47, 12, -30, 58, 2,
 -14, 40, -57, 23, 8, -38, 51, -19, 35, -62, 16, 45, -29, 3, 60, -44, 27, -9, 53, -24, 11, -50, 37, -5, 29,
 46, -21, 6, -49, 30, 59, -33, 14, -2, 42, -56, 25, -11, 54, -39, 19, -27, 48, 7, -61, 34, -16, 22, -45, 63,
 -31, 13, 50, -24, 37, -7, -53, 28, 61, -18, 9, -40, 44, 20, -34, 5, 57, -46, 15, -12, 39, -58, 26, 47, -1,
 24, -52, 36, -15, 3, 55, -29, 42, -10, 18, -63, 31, 8, -37, 49, -22, 12, 60, -41, 27, -6, 45, -26, 14, -48,
 -7, 33, -44, 58, -20, 11, 47, -36, 22, -2, 53, -50, 17, 38, -13, -59, 30, 4, -28, 56, -17, 41, 1, -43, 35,
 52, -18, 27, -60, 41, 6, -31, 19, -47, 62, -9, 34, -23, 13, 46, -40, 24, -4, 59, -33, 20, -54, 43, 10, -25,
 -38, 9, 61, -28, 15, 44, -12, 36, -55, 25, 2, -42, 50, -17, 31, -6, 55, -35, 18, -63, 40, 7, -21, 48, -14,
 30, -47, 14, 39, -3, -24, 57, -41, 11, 28, -58, 46, -8, 21, -36, 63, -19, 35, -50, 5, 42, -29, 16, -11, 53,
 -16, 43, -30, 6, 52, -45, 20, -13, 48, -37, 26, 59, -22, 9, -54, 33, -1, 45, -27, 17, -61, 38, 4, -34, 24,
 58, -9, 22, -51, 35, 1, -40, 29, 62, -20, 14, -32, 41, -48, 7, 50, -15, 27, -6, 44, -57, 19, 55, -24, 12,
 -26, 37, -62, 18, 46, -11, 30, -43, 4, 56, -33, 23, -18, 60, -5, 39, -52, 13, 34, -28, 8, -46, 51, -2, 32,
 11, -55, 42, 27, -21, 61, -8, 15, -39, 33, -13, 49, -59, 24, 2, -30, 47, -44, 20, 57, -16, 36, -35, 6, -50,
 41, -3, -36, 53, -14, 24, -48, 37, 9, -25, 60, -42, 17, 31, -57, 12, -20, 44, 3, -39, 28, 63, -11, 22, -31,
 -45, 26, 10, -58, 34, 48, -17, 5, -33, 54, -7, 21, -49, 38, 15, -27, 59, -12, 30, -53, 43, -1, 18, -37, 47,
 19, -34, 55, -6, 28, -60, 40, 13, -23, 45, -43, 7, 32, -15, 62, -38, 25, -9, 51, -26, 11, -47, 36, 57, -18,
 -2, 50, -27, 39, -12, 18, -54, 46, 23, -39, 8, 61, -30, 14, -44, 35, 3, -19, 56, -36, 27, -62, 42, -8, 21,
 35, -16, 8, -41, 59, -29, 16, -5, 43, -56, 30, -20, 52, 1, -34, 47, -25, 20, -47, 38, 63, -13, 24, -52, 10,
 -23, 44, -8, 29, -50, 12, 57, -37, 21, -14, 40, -61, 15, 49, -28, 6, -45, 33, -3, 54, -19, 27, -40, 16, 61,
 7, -62, 38, -19, 25, 53, -32, 10, -48, 36, 1, -26, 58, -41, 20, -10, 44, -55, 29, 13, -35, 51, -7, 31, -44,
 48, -28, 17, -3, 62, -46, 34, -15, 26, -52, 12, 41, -22, 5, -60, 37, -12, 55, -30, 19, -39, 9, 46, -18, 28,
 -11, 32, -53, 45, -24, 2, 50, -38, 14, 59, -21, 27, -43, 8, 36, -56, 23, -6, 42, -31, 16, 60, -27, 3, -49,
]

# isolated far points (time, flux)
s42_out_t = [447.84, 447.96, 453.40, 453.16, 452.24, 451.44, 451.52, 451.16, 453.16, 452.60,
             449.12, 449.32, 461.24, 461.28, 462.80, 464.56, 464.84, 467.36, 469.32, 469.60,
             464.00, 470.64, 470.28, 461.92, 466.76]
s42_out_f = [251, 194, 285, 258, 257, 252, 234, -224, -241, -241,
             211, 210, 353, -210, 293, 320, 276, 265, 277, 277,
             -208, -204, -192, 246, 248]
s43_out_t = [474.08, 474.16, 477.24, 477.20, 476.48, 479.40, 481.04, 480.84, 481.24, 481.68,
             479.56, 478.64, 475.84, 487.12, 488.00, 487.84, 491.60, 493.80, 496.40, 497.16,
             496.80, 492.52, 492.76, 492.04, 492.60, 487.84, 494.92, 487.16]
s43_out_f = [-410, -224, 315, 293, 274, 253, 349, 320, -232, -230,
             -234, -219, 224, -370, 324, 316, 304, 317, 281, -301,
             -230, -244, -282, -245, -263, -227, 270, 255]

# binned light curve (white-outlined line), one list per orbit
bin42_a_span = (447.68, 453.46)
bin42_a = [6, 16, -2, 12, 17, 1, 10, 9, 10, 7, 9, 1, -8, 1, -2, 6, -8, 3, 10, -3,
           3, 6, 12, 6, 6, 6, -8, -24, -3, -2, -18, -3, 17]
bin42_b_span = (461.23, 470.46)
bin42_b = [-1, 9, 58, 9, -6, 8, -14, 8, -5, 4, -8, 17, -2, -17, -5, -3, -13, 0, -13, 4,
           -15, -14, -23, -6, -31, -13, -10, -8, -2, 0, 18, 49, 20, 15, 23, 8, 29, 4, 26, 15,
           4, 26, -10, 0, -3, -31, 27]
bin43_a_span = (474.08, 482.00)
bin43_a = [0, 0, 4, -11, 10, -14, 6, -9, 9, -14, 9, 0, 1, 14, 10, 14, -3, 35, 6, 14,
           12, -9, 8, -6, 12, -5, -6, -13, 6, -19, 3, -20, 1, 4, -13, 15, 6, 14, 6]
bin43_b_span = (487.10, 498.08)
bin43_b = [24, 31, 12, 5, 29, 28, -18, 10, -13, 7, 0, -21, -9, -28, -4, -18, 8, 3, 22, 8,
           5, 1, 28, 8, 31, 10, 19, -4, 12, -23, -2, -18, 1, 14, 24, -4, 1, 3, -9, 10,
           7, -9, 0, -13, -2, -18, 12, -14, 3, -9, 26, 5, 21, 19, -11, 1]

labels = ["HD 1160 A, Sector 42", "HD 1160 A, Sector 43"]
colors = ["black", "red"]

# ---------------- figure ----------------
W, H, DPI = 3149, 2047, 300
fig = plt.figure(figsize=(W / DPI, H / DPI), dpi=DPI)
ax = fig.add_axes([333 / W, 1 - 1845 / H, (3123 - 333) / W, (1845 - 3) / H])


def cadence(span, n):
    # uniform instrument cadence across an orbit
    return np.linspace(span[0], span[1], n)


def orbit(span, *lists):
    ts = [cadence(span, len(v)) for v in lists]
    return np.concatenate(ts), np.concatenate([np.asarray(v, float) for v in lists])


ta, fa = orbit(s42_a_span, s42_a_flux, s42_a_core, s42_a_inner)
tb, fb = orbit(s42_b_span, s42_b_flux, s42_b_core, s42_b_inner)
t42 = np.concatenate([ta, tb, s42_out_t]) + BJD0
f42 = np.concatenate([fa, fb, s42_out_f])

ta, fa = orbit(s43_a_span, s43_a_flux, s43_a_core, s43_a_inner)
tb, fb = orbit(s43_b_span, s43_b_flux, s43_b_core, s43_b_inner)
t43 = np.concatenate([ta, tb, s43_out_t]) + BJD0
f43 = np.concatenate([fa, fb, s43_out_f])

mk = dict(linestyle="none", marker="o", ms=3.0, mew=0.6, alpha=0.45)
ax.plot(t42, f42, color=colors[0], label=labels[0], **mk)
ax.plot(t43, f43, color=colors[1], label=labels[1], **mk)

outline = [pe.Stroke(linewidth=3.8, foreground="white"), pe.Normal()]
for span, vals, c in [(bin42_a_span, bin42_a, colors[0]),
                      (bin42_b_span, bin42_b, colors[0]),
                      (bin43_a_span, bin43_a, colors[1]),
                      (bin43_b_span, bin43_b, colors[1])]:
    tl = cadence(span, len(vals)) + BJD0
    ax.plot(tl, vals, color=c, lw=1.5, path_effects=outline, zorder=3)

ax.set_xlabel("Time [BJD]", fontsize=20)
ax.set_ylabel("Δ PDC SAP Flux [electrons/s]", fontsize=20)
ax.tick_params(labelsize=18)
ax.xaxis.get_offset_text().set_fontsize(18)

leg = ax.legend(loc="lower left", frameon=False, fontsize=20, markerscale=0.8)
for txt, c in zip(leg.get_texts(), colors):
    txt.set_color(c)

fig.savefig("out.png", dpi=DPI)
